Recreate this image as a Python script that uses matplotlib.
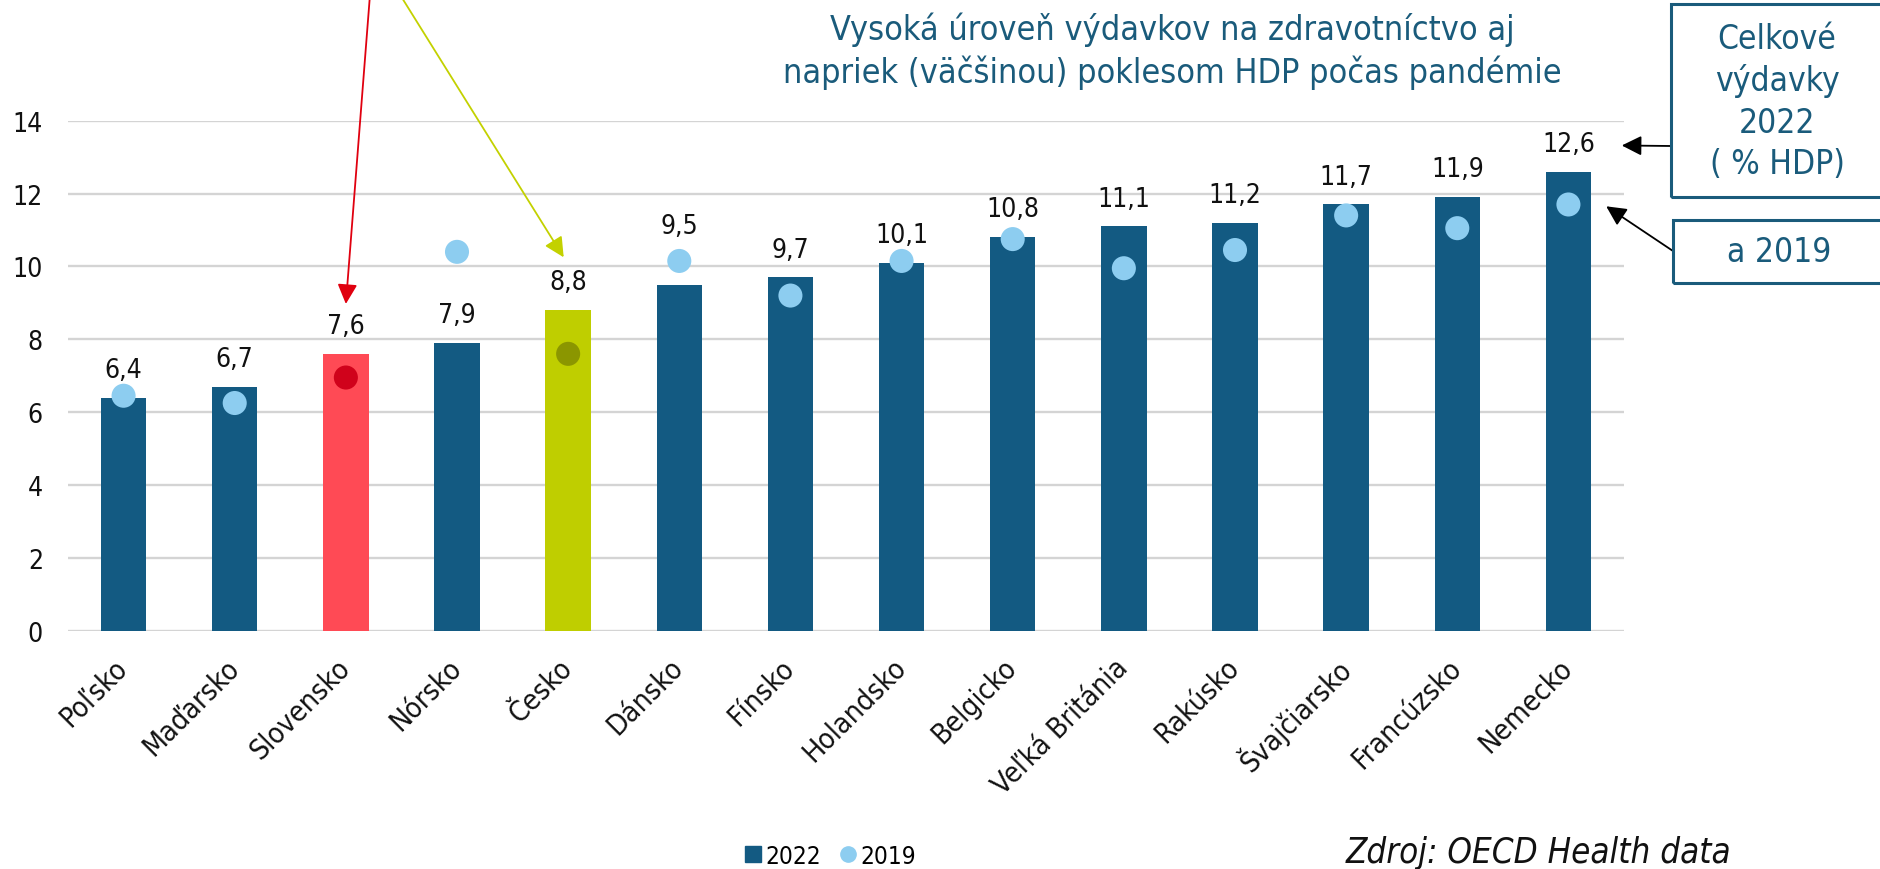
import matplotlib.pyplot as plt
from matplotlib import font_manager
from matplotlib.lines import Line2D
from matplotlib.patches import Rectangle

# data
countries = ['Poľsko', 'Maďarsko', 'Slovensko', 'Nórsko', 'Česko', 'Dánsko', 'Fínsko',
             'Holandsko', 'Belgicko', 'Veľká Británia', 'Rakúsko', 'Švajčiarsko',
             'Francúzsko', 'Nemecko']
spend_2022 = [6.4, 6.7, 7.6, 7.9, 8.8, 9.5, 9.7, 10.1, 10.8, 11.1, 11.2, 11.7, 11.9, 12.6]
spend_2019 = [6.45, 6.25, 6.95, 10.4, 7.6, 10.15, 9.2, 10.15, 10.75, 9.95, 10.45, 11.4, 11.05, 11.7]
y_ticks = [0, 2, 4, 6, 8, 10, 12, 14]

title = 'Vysoká úroveň výdavkov na zdravotníctvo aj\nnapriek (väčšinou) poklesom HDP počas pandémie'
box_total = 'Celkové\nvýdavky\n2022\n( % HDP)'
box_2019 = 'a 2019'
source = 'Zdroj: OECD Health data'

# colours
BLUE = '#135a82'
LIGHT = '#8dcdf0'
SK_BAR, SK_DOT = '#ff4a55', '#d0021b'
CZ_BAR, CZ_DOT = '#bfce00', '#8b9600'
TEAL = '#1a5b7b'

# Tahoma-like look: use condensed DejaVu if present
fp = font_manager.FontProperties(family='DejaVu Sans', stretch='condensed')
cond = 'Condensed' in font_manager.findfont(fp)
plt.rcParams['font.family'] = 'DejaVu Sans'
plt.rcParams['font.stretch'] = 'condensed' if cond else 'normal'
k = 1.0 if cond else 0.9

W, H = 1881, 870
fig = plt.figure(figsize=(W / 100, H / 100), dpi=100)
ax = fig.add_axes([68 / W, 1 - 631.7 / H, (1624 - 68) / W, 510 / H])

x = list(range(len(countries)))
bar_cols = [BLUE] * len(countries)
dot_cols = [LIGHT] * len(countries)
bar_cols[2], dot_cols[2] = SK_BAR, SK_DOT
bar_cols[4], dot_cols[4] = CZ_BAR, CZ_DOT

ax.bar(x, spend_2022, width=0.41, color=bar_cols, zorder=2)
ax.scatter(x, spend_2019, s=300, color=dot_cols, zorder=3, linewidths=0)

for i, (v, d) in enumerate(zip(spend_2022, spend_2019)):
    above_dot = 0.3 < d - v < 1.5
    base = d if above_dot else v
    off = 25.5 if above_dot else 20
    ax.annotate(f'{v:.1f}'.replace('.', ','), (i, base), xytext=(0, off),
                textcoords='offset points', ha='center', va='center',
                fontsize=19 * k, color='#111111')

ax.set_xlim(-0.5, len(countries) - 0.5)
ax.set_ylim(0, 14)
ax.set_yticks(y_ticks)
ax.set_yticklabels([str(t) for t in y_ticks], fontsize=19 * k, color='#111111')
ax.set_xticks(x)
ax.set_xticklabels(countries, fontsize=20.5 * k, color='#111111',
                   rotation=45, ha='right', va='center', rotation_mode='anchor')
ax.tick_params(axis='both', length=0)
ax.tick_params(axis='y', pad=18)
ax.tick_params(axis='x', pad=23)
ax.yaxis.grid(True, color='#d4d4d4', lw=1.7)
ax.set_axisbelow(True)
for s in ax.spines.values():
    s.set_visible(False)

# legend
handles = [Line2D([], [], marker='s', ls='', color=BLUE, markersize=11),
           Line2D([], [], marker='o', ls='', color=LIGHT, markersize=11)]
fig.legend(handles, ['2022', '2019'], loc='center', ncol=2, frameon=False,
           bbox_to_anchor=(831 / W, 1 - 857 / H), fontsize=17.5 * k,
           handlelength=0.6, handletextpad=0.2, columnspacing=0.8)

# title and source
fig.text(1172 / W, 1 - 51 / H, title, ha='center', va='center', color=TEAL,
         fontsize=24.5 * k, linespacing=1.3, multialignment='center')
fig.text(1346 / W, 1 - 853 / H, source, ha='left', va='center', style='italic',
         fontsize=25 * k, color='#111111')

# boxes on the right
fig.add_artist(Rectangle((1671 / W, 1 - 198 / H), 0.2, 193 / H, transform=fig.transFigure,
                         fill=False, ec=TEAL, lw=2.2))
fig.add_artist(Rectangle((1673 / W, 1 - 284 / H), 0.2, 63 / H, transform=fig.transFigure,
                         fill=False, ec=TEAL, lw=2.2))
fig.text(1777 / W, 1 - 102 / H, box_total, ha='center', va='center', color=TEAL,
         fontsize=24 * k, linespacing=1.32, multialignment='center')
fig.text(1779 / W, 1 - 253 / H, box_2019, ha='center', va='center', color=TEAL,
         fontsize=24 * k)

head = '-|>,head_length=0.4,head_width=0.2'
n = len(countries)
ax.annotate('', xy=(n - 0.52, spend_2022[-1] + 0.72), xytext=(1671, H - 147),
            textcoords='figure pixels',
            arrowprops=dict(arrowstyle=head, color='black', lw=1.3, mutation_scale=30,
                            shrinkA=0, shrinkB=0), annotation_clip=False)
ax.annotate('', xy=(n - 0.66, spend_2019[-1] - 0.05), xytext=(1673, H - 252),
            textcoords='figure pixels',
            arrowprops=dict(arrowstyle=head, color='black', lw=1.3, mutation_scale=30,
                            shrinkA=0, shrinkB=0), annotation_clip=False)

# arrows from the (cut off) note above the chart
ax.annotate('', xy=(2, spend_2022[2] + 1.37), xytext=(372, H + 30),
            textcoords='figure pixels',
            arrowprops=dict(arrowstyle=head, color='#e0000f', lw=1.3, mutation_scale=30,
                            shrinkA=0, shrinkB=0), annotation_clip=False)
ax.annotate('', xy=(3.96, spend_2022[4] + 1.45), xytext=(384, H + 30),
            textcoords='figure pixels',
            arrowprops=dict(arrowstyle=head, color='#c3d100', lw=1.3, mutation_scale=30,
                            shrinkA=0, shrinkB=0), annotation_clip=False)

fig.savefig('out.png', dpi=100)
